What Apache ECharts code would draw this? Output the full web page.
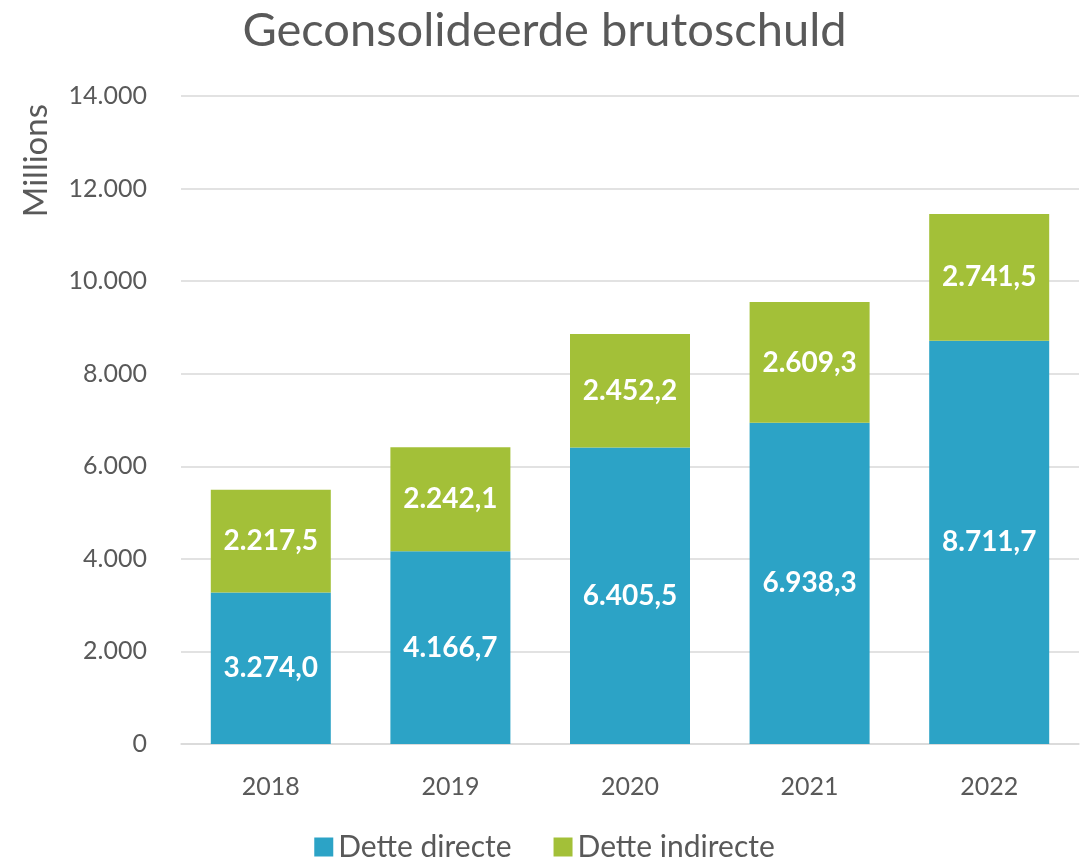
<!DOCTYPE html>
<html>
<head>
<meta charset="utf-8">
<script src="https://cdn.jsdelivr.net/npm/echarts@6/dist/echarts.min.js"></script>
<style>
  html, body { margin: 0; padding: 0; background: #fff; }
  #chart { width: 1089px; height: 861px; }
</style>
</head>
<body>
<div id="chart"></div>
<script>
// data
const years = ["2018", "2019", "2020", "2021", "2022"];
const detteDirecte = [3274.0, 4166.7, 6405.5, 6938.3, 8711.7];
const detteIndirecte = [2217.5, 2242.1, 2452.2, 2609.3, 2741.5];

const font = "Lato, 'Open Sans', sans-serif";
const grey = "#595959";

// dutch number style: 3.274,0
function fmtLabel(v) {
  const parts = v.toFixed(1).split(".");
  return parts[0].replace(/\B(?=(\d{3})+(?!\d))/g, ".") + "," + parts[1];
}
function fmtTick(v) {
  return String(v).replace(/\B(?=(\d{3})+(?!\d))/g, ".");
}

const chart = echarts.init(document.getElementById("chart"), null, { renderer: "canvas" });

const labelStyle = {
  show: true,
  position: "inside",
  color: "#fff",
  fontFamily: font,
  fontWeight: "bold",
  fontSize: 28,
  formatter: p => fmtLabel(p.value)
};

chart.setOption({
  animation: false,
  title: {
    text: "Geconsolideerde brutoschuld",
    left: "center",
    top: 2,
    textStyle: { fontFamily: font, fontSize: 47, fontWeight: "normal", color: grey }
  },
  legend: {
    bottom: -6,
    left: "center",
    itemWidth: 19,
    itemHeight: 19,
    itemGap: 42,
    icon: "rect",
    textStyle: { fontFamily: font, fontSize: 30, color: grey }
  },
  grid: { left: 181, right: 10, top: 96, bottom: 117 },
  xAxis: {
    type: "category",
    data: years,
    axisLine: { lineStyle: { color: "#d9d9d9", width: 1.5 } },
    axisTick: { show: false },
    axisLabel: { fontFamily: font, fontSize: 25, color: grey, margin: 30 }
  },
  yAxis: {
    type: "value",
    min: 0,
    max: 14000,
    interval: 2000,
    name: "Millions",
    nameLocation: "end",
    nameRotate: 90,
    nameGap: 0,
    nameTextStyle: { fontFamily: font, fontSize: 33, color: grey, align: "right", verticalAlign: "bottom", padding: [0, 8, 128, 0] },
    axisLine: { show: false },
    axisTick: { show: false },
    splitLine: { lineStyle: { color: "#d9d9d9", width: 1.5 } },
    axisLabel: { fontFamily: font, fontSize: 25, color: grey, margin: 34, formatter: fmtTick }
  },
  series: [
    {
      name: "Dette directe",
      type: "bar",
      stack: "total",
      barWidth: 120,
      data: detteDirecte,
      itemStyle: { color: "#2ca3c6" },
      label: labelStyle
    },
    {
      name: "Dette indirecte",
      type: "bar",
      stack: "total",
      barWidth: 120,
      data: detteIndirecte,
      itemStyle: { color: "#a3c038" },
      label: labelStyle
    }
  ]
});
</script>
</body>
</html>
